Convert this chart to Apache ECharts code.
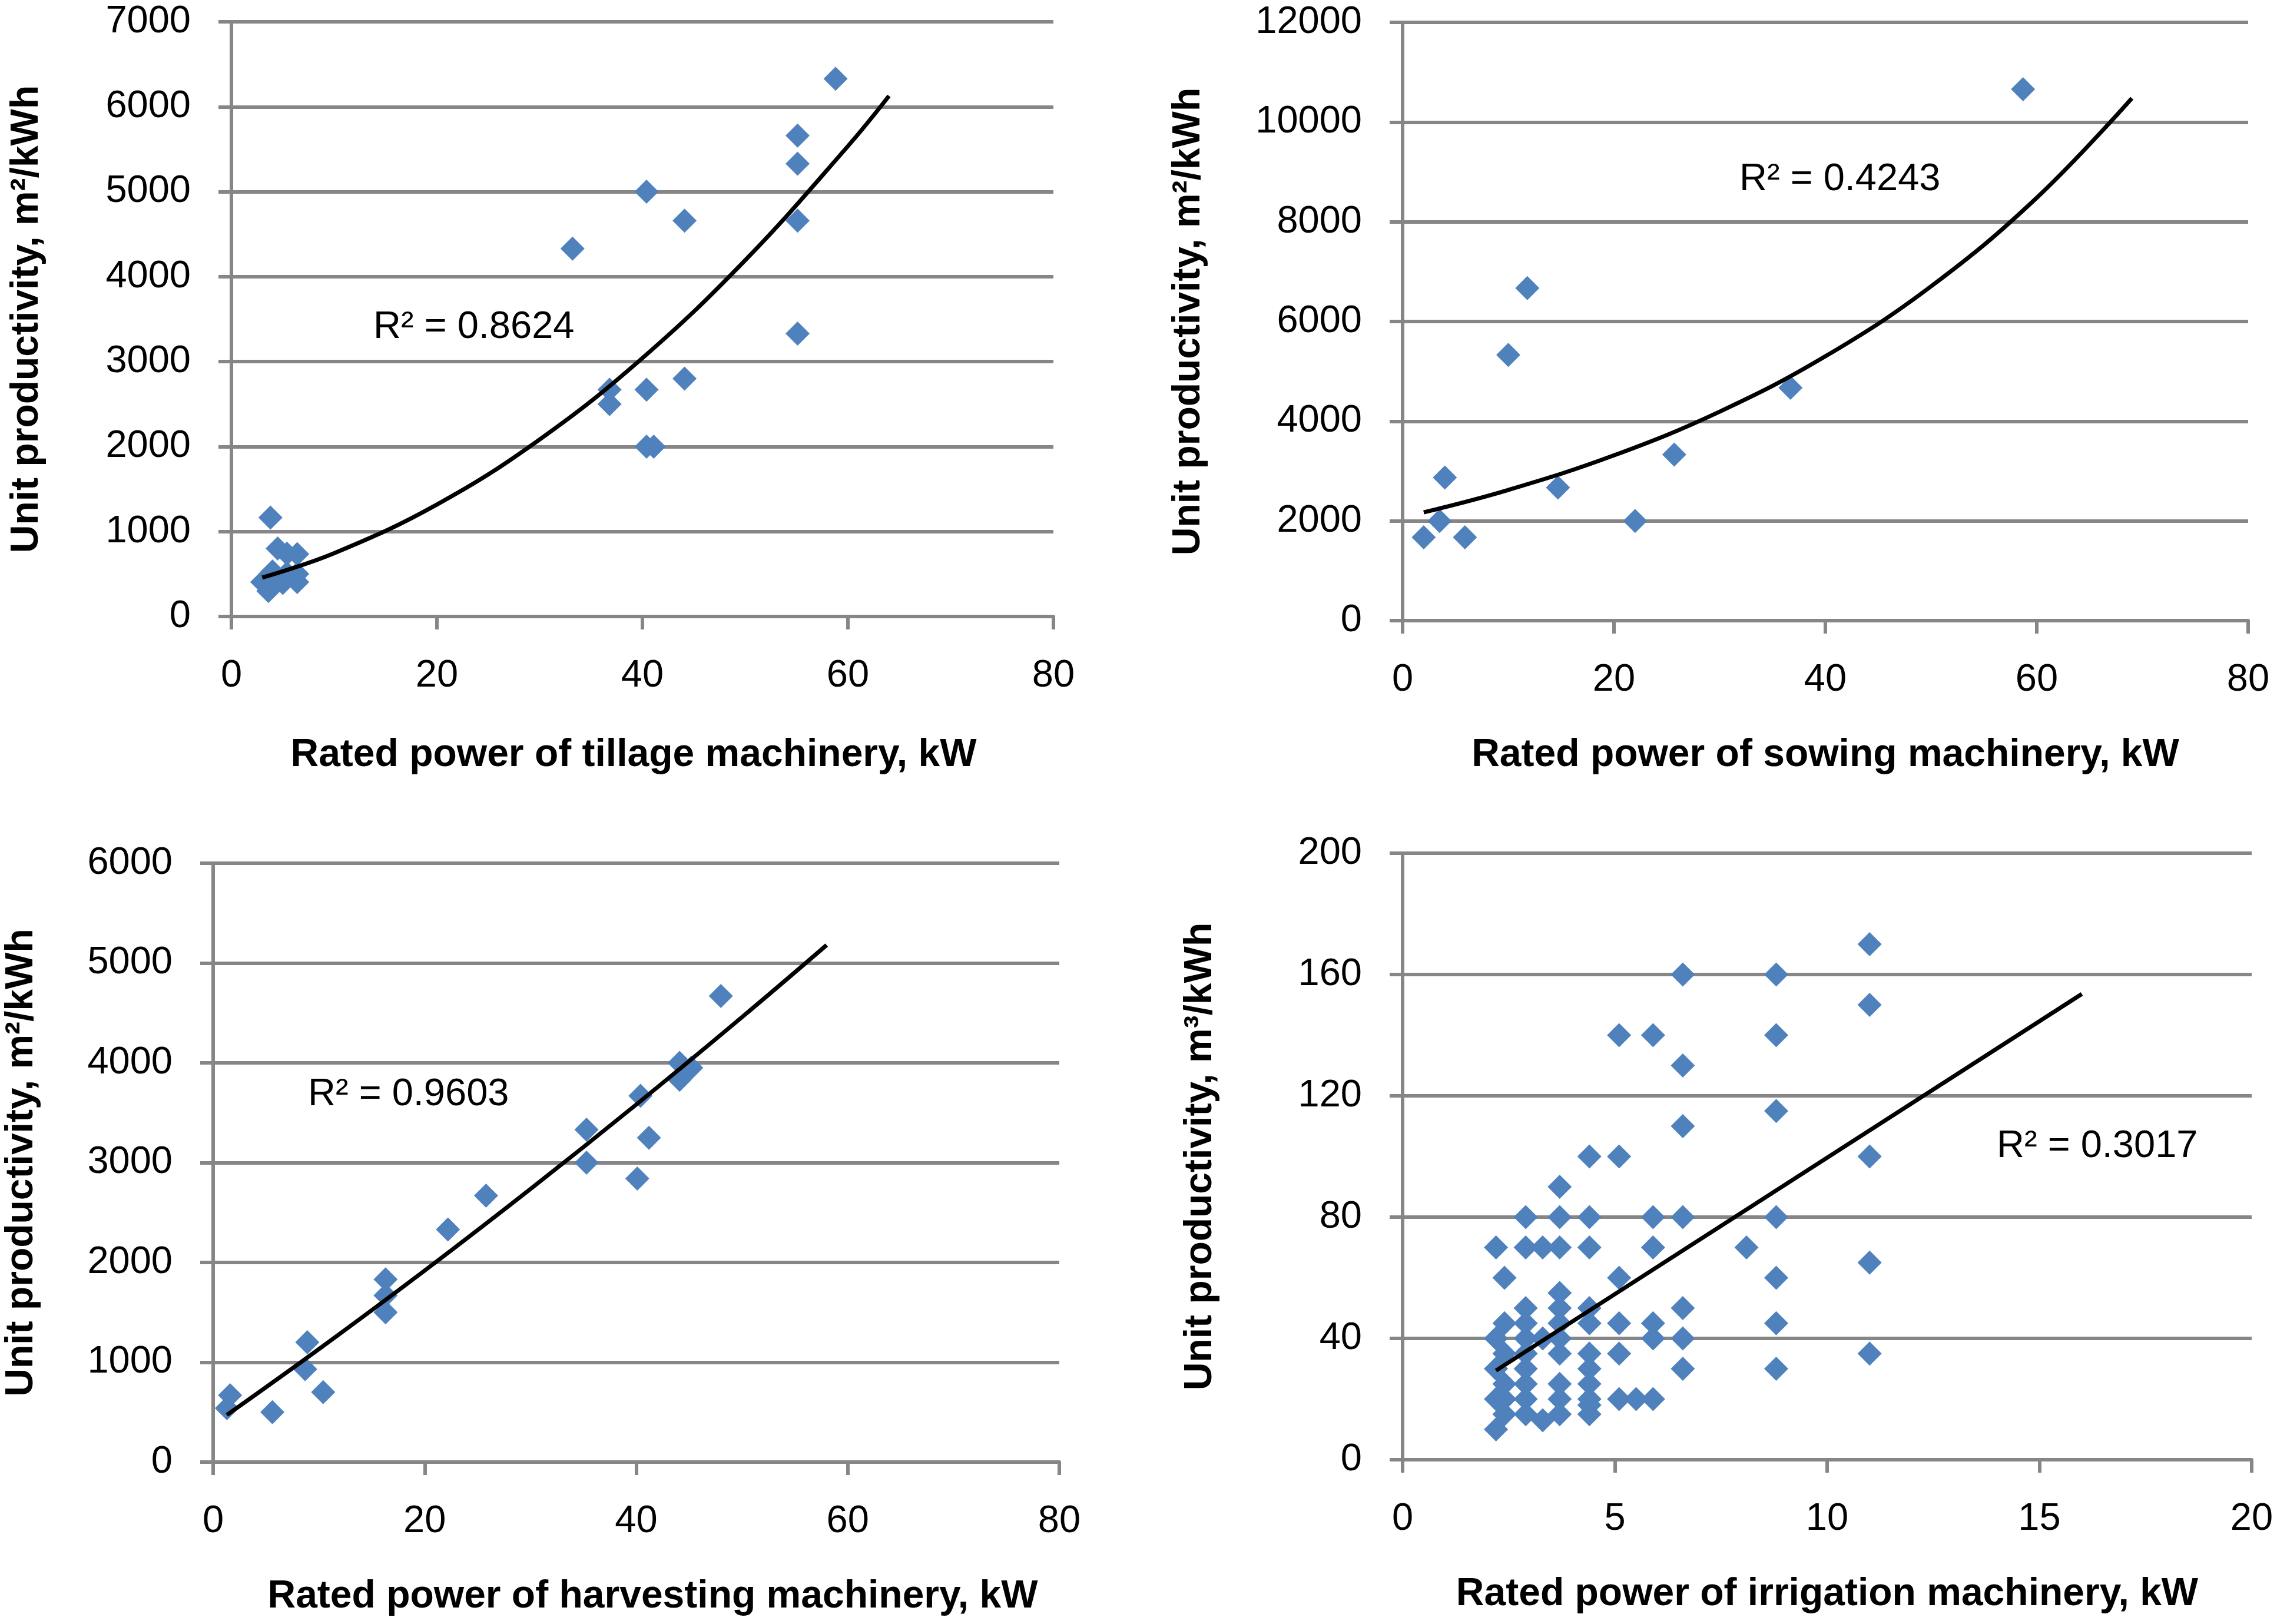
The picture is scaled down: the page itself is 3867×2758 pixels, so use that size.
<!DOCTYPE html>
<html><head><meta charset="utf-8">
<script src="https://cdn.jsdelivr.net/npm/echarts@6/dist/echarts.min.js"></script>
<style>html,body{margin:0;padding:0;background:#fff}#c{width:3867px;height:2758px}</style>
</head><body><div id="c"></div>
<script>
// ---- data ----
const tillagePoints = [
  [3.8,1165],[4.5,800],[5.4,740],[6.4,735],[4.0,530],[3.0,405],[3.6,300],[3.7,405],
  [5.0,395],[5.4,510],[6.4,500],[6.4,405],
  [33.2,4330],[36.8,2670],[36.8,2500],[40.4,5000],[40.4,2670],[40.4,2000],[41.1,2000],
  [44.1,4660],[44.1,2800],[55.1,5660],[55.1,5330],[55.1,4660],[55.1,3330],[58.8,6330]
];
const tillageTrend = [[3,458],[10,745],[20,1318],[30,2084],[40,3042],[50,4193],[60,5536],[64,6127]];

const sowingPoints = [
  [2.0,1670],[3.5,2000],[4.0,2870],[5.9,1670],[10.0,5330],[11.8,6670],[14.7,2670],
  [22.0,2000],[25.7,3330],[36.7,4670],[58.7,10660]
];
const sowingTrend = [[2,2172],[10,2621],[20,3315],[30,4192],[40,5302],[50,6706],[60,8482],[69,10478]];

const harvestPoints = [
  [1.3,540],[1.6,670],[5.6,500],[8.7,930],[8.9,1200],[10.4,700],[16.3,1500],[16.3,1670],
  [16.3,1830],[22.2,2330],[25.8,2670],[35.3,3000],[35.3,3330],[40.1,2840],[40.4,3670],
  [41.2,3250],[44.1,3830],[44.1,4000],[45.2,3950],[48.0,4670]
];
const harvestTrend = [[1.3,472],[10,1132],[20,1919],[30,2736],[40,3582],[50,4458],[58,5180]];

const irrigationPoints = [
  [2.2,70],[2.2,40],[2.2,30],[2.2,20],[2.2,10],
  [2.4,60],[2.4,45],[2.4,35],[2.4,25],[2.4,20],[2.4,15],
  [2.9,80],[2.9,70],[2.9,50],[2.9,45],[2.9,40],[2.9,35],[2.9,30],[2.9,25],[2.9,20],[2.9,15],
  [3.3,70],[3.3,40],[3.3,13],
  [3.7,90],[3.7,80],[3.7,70],[3.7,55],[3.7,50],[3.7,45],[3.7,40],[3.7,35],[3.7,25],[3.7,20],[3.7,15],
  [4.4,100],[4.4,80],[4.4,70],[4.4,50],[4.4,45],[4.4,35],[4.4,30],[4.4,25],[4.4,20],[4.4,18],[4.4,15],
  [5.1,140],[5.1,100],[5.1,60],[5.1,45],[5.1,35],[5.1,20],
  [5.5,20],
  [5.9,140],[5.9,80],[5.9,70],[5.9,45],[5.9,40],[5.9,20],
  [6.6,160],[6.6,130],[6.6,110],[6.6,80],[6.6,50],[6.6,40],[6.6,30],
  [8.1,70],
  [8.8,160],[8.8,140],[8.8,115],[8.8,80],[8.8,60],[8.8,45],[8.8,30],
  [11.0,170],[11.0,150],[11.0,100],[11.0,65],[11.0,35]
];
const irrigationTrend = [[2.2,29.4],[16,153.6]];

const xNames = ['Rated power of tillage machinery, kW','Rated power of sowing machinery, kW',
                'Rated power of harvesting machinery, kW','Rated power of irrigation machinery, kW'];
const yNames = ['Unit productivity, m\u00b2/kWh','Unit productivity, m\u00b2/kWh',
                'Unit productivity, m\u00b2/kWh','Unit productivity, m\u00b3/kWh'];
const r2Labels = ['R\u00b2 = 0.8624','R\u00b2 = 0.4243','R\u00b2 = 0.9603','R\u00b2 = 0.3017'];
const xMax = [80,80,80,20], xStep = [20,20,20,5];
const yMax = [7000,12000,6000,200], yStep = [1000,2000,1000,40];

// ---- layout / style ----
const FONT = '"Liberation Sans", Arial, sans-serif';
const GRAY = '#868686';
const BLUE = '#4F81BD';
const grids = [
  {left:393, top:37, width:1396, height:1010},
  {left:2382, top:38, width:1436, height:1016},
  {left:362, top:1466, width:1437, height:1017},
  {left:2382, top:1449, width:1442, height:1030}
];
const yGap = [314, 330, 292, 310];
const xGap = [203, 196, 196, 196];
const xNamePad = [[0,30,0,0],[0,0,0,0],[0,0,0,56],[0,0,0,0]];
const r2Pos = [[634,558],[2954,307],[523,1861],[3391,1949]];

const lineStyle = {color:GRAY, width:6};
const xAxes = grids.map((g,i)=>({
  type:'value', gridIndex:i, min:0, max:xMax[i], interval:xStep[i],
  name:xNames[i], nameLocation:'middle', nameGap:xGap[i],
  nameTextStyle:{fontFamily:FONT, fontSize:66, fontWeight:'bold', color:'#000', padding:xNamePad[i]},
  axisLine:{show:true, lineStyle:lineStyle},
  axisTick:{show:true, length:22, lineStyle:lineStyle},
  splitLine:{show:false},
  axisLabel:{show:true, margin:69, fontFamily:FONT, fontSize:65, color:'#000', formatter:v=>String(v)}
}));
const yAxes = grids.map((g,i)=>({
  type:'value', gridIndex:i, min:0, max:yMax[i], interval:yStep[i],
  name:yNames[i], nameLocation:'middle', nameGap:yGap[i],
  nameTextStyle:{fontFamily:FONT, fontSize:66, fontWeight:'bold', color:'#000'},
  axisLine:{show:true, lineStyle:lineStyle},
  axisTick:{show:true, length:22, lineStyle:lineStyle},
  splitLine:{show:true, lineStyle:lineStyle},
  axisLabel:{show:true, margin:69, fontFamily:FONT, fontSize:65, color:'#000', formatter:v=>String(v)}
}));

const pointSets = [tillagePoints, sowingPoints, harvestPoints, irrigationPoints];
const trendSets = [tillageTrend, sowingTrend, harvestTrend, irrigationTrend];
const series = [];
pointSets.forEach((pts,i)=>{
  series.push({type:'scatter', xAxisIndex:i, yAxisIndex:i, data:pts, symbol:'diamond',
    symbolSize:41, itemStyle:{color:BLUE, opacity:1}, z:2, silent:true});
});
trendSets.forEach((pts,i)=>{
  series.push({type:'line', xAxisIndex:i, yAxisIndex:i, data:pts, symbol:'none',
    smooth:i===3?false:0.4, lineStyle:{color:'#000', width:7}, z:3, silent:true});
});

const graphic = r2Labels.map((t,i)=>({
  type:'text', left:r2Pos[i][0], top:r2Pos[i][1]-34, z:10,
  style:{text:t, font:'65px ' + FONT, fill:'#000'}
}));

const chart = echarts.init(document.getElementById('c'), null, {renderer:'canvas', devicePixelRatio:1});
chart.setOption({
  animation:false,
  backgroundColor:'#fff',
  grid: grids.map(g=>Object.assign({containLabel:false, outerBoundsMode:'none'}, g)),
  xAxis: xAxes, yAxis: yAxes, series: series, graphic: graphic
});
</script></body></html>
